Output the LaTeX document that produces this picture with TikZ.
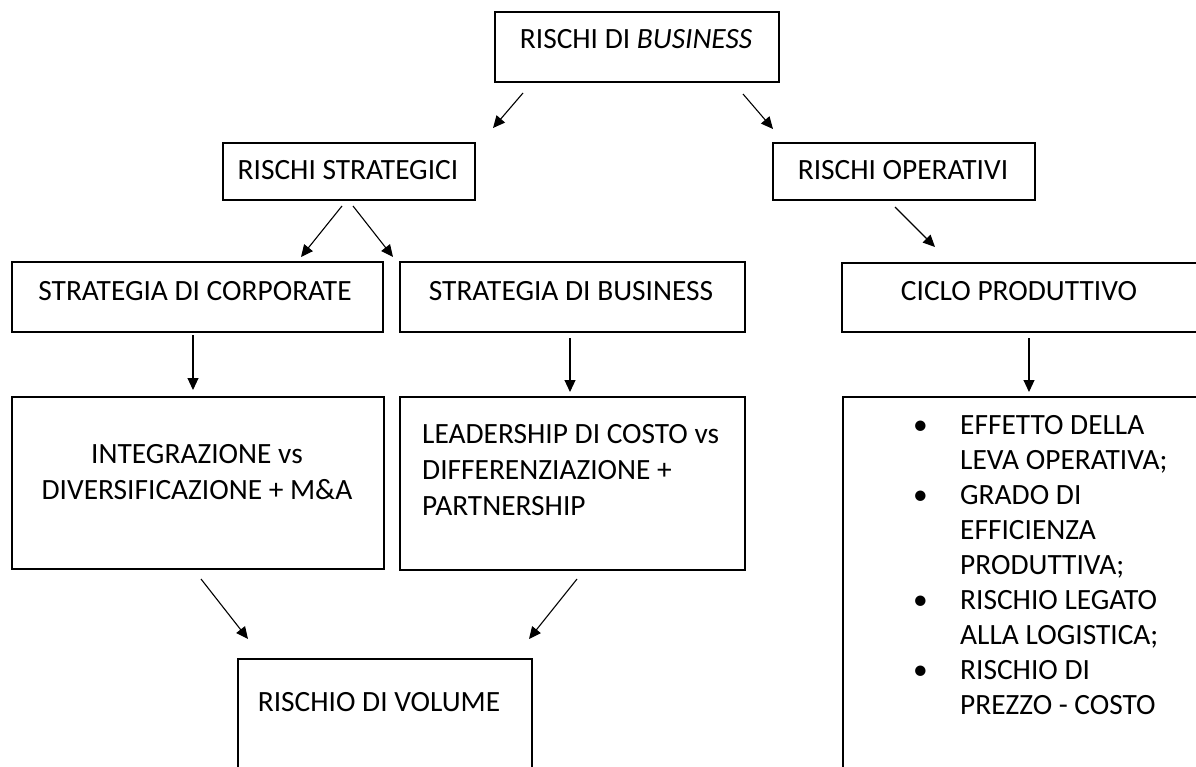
\documentclass[tikz,border=0pt]{standalone}
\usepackage{fontspec}
\setmainfont{Carlito}
\usetikzlibrary{arrows.meta}
\begin{document}
\begin{tikzpicture}[x=1pt,y=-1pt,
  box/.style={draw, line width=1.6pt, anchor=north west, inner sep=0pt},
  lbl/.style={anchor=base, inner sep=0pt, font=\fontsize{29.4}{36}\selectfont},
  conn/.style={line width=1.1pt, -{Triangle[length=12pt,width=11pt]}}]
\useasboundingbox (0,0) rectangle (1196,767);
\clip (0,0) rectangle (1196,767);

% boxes
\node[box, minimum width=284pt, minimum height=70pt] (biz) at (494,11) {};
\node[box, minimum width=252pt, minimum height=57pt] (strat) at (222,142) {};
\node[box, minimum width=262pt, minimum height=57pt] (oper) at (772,142) {};
\node[box, minimum width=371pt, minimum height=70pt] (corp) at (11,261) {};
\node[box, minimum width=345pt, minimum height=70pt] (bus) at (399,261) {};
\node[box, minimum width=400pt, minimum height=69pt] (ciclo) at (841,262) {};
\node[box, minimum width=372pt, minimum height=172pt] (integ) at (11,396) {};
\node[box, minimum width=345pt, minimum height=173pt] (leader) at (399,396) {};
\node[box, minimum width=400pt, minimum height=420pt] (fattori) at (842,396) {};
\node[box, minimum width=294pt, minimum height=200pt] (vol) at (237,658) {};

% labels
\node[lbl] (tbiz) at (636,49) {RISCHI DI \textit{BUSINESS}};
\node[lbl] (tstrat) at (348,180) {RISCHI STRATEGICI};
\node[lbl] (toper) at (903,180) {RISCHI OPERATIVI};
\node[lbl] (tcorp) at (195,300) {STRATEGIA DI CORPORATE};
\node[lbl] (tbus) at (571,300) {STRATEGIA DI BUSINESS};
\node[lbl] (tciclo) at (1019,300) {CICLO PRODUTTIVO};
\node[lbl] (tinteg) at (197,463) {\begin{tabular}[t]{@{}c@{}}INTEGRAZIONE vs\\ DIVERSIFICAZIONE + M\&A\end{tabular}};
\node[lbl, anchor=base west] (tleader) at (422,443) {\begin{tabular}[t]{@{}l@{}}LEADERSHIP DI COSTO vs\\ DIFFERENZIAZIONE +\\ PARTNERSHIP\end{tabular}};
\node[lbl] (tvol) at (379,711) {RISCHIO DI VOLUME};
\node[lbl, anchor=base west, font=\fontsize{29.4}{35.1}\selectfont] (tfattori) at (913,434) {%
  \begin{tabular}[t]{@{}p{47pt}@{}l@{}}
  \textbullet & EFFETTO DELLA\\
              & LEVA OPERATIVA;\\
  \textbullet & GRADO DI\\
              & EFFICIENZA\\
              & PRODUTTIVA;\\
  \textbullet & RISCHIO LEGATO\\
              & ALLA LOGISTICA;\\
  \textbullet & RISCHIO DI\\
              & PREZZO - COSTO
  \end{tabular}};

% connector end points
\coordinate (a1) at (523,93);   \coordinate (b1) at (493,128);
\coordinate (a2) at (743,94);   \coordinate (b2) at (773,129);
\coordinate (a3) at (342,206);  \coordinate (b3) at (301,257);
\coordinate (a4) at (353,206);  \coordinate (b4) at (393,257);
\coordinate (a5) at (193,335);  \coordinate (b5) at (193,390);
\coordinate (a6) at (570,338);  \coordinate (b6) at (570,392);
\coordinate (a7) at (895,207);  \coordinate (b7) at (935,247);
\coordinate (a8) at (1029,338); \coordinate (b8) at (1029,392);
\coordinate (a9) at (201,579);  \coordinate (b9) at (248,639);
\coordinate (a10) at (577,579); \coordinate (b10) at (529,639);

\foreach \i in {1,...,10} \draw[conn] (a\i) -- (b\i);
\end{tikzpicture}
\end{document}
